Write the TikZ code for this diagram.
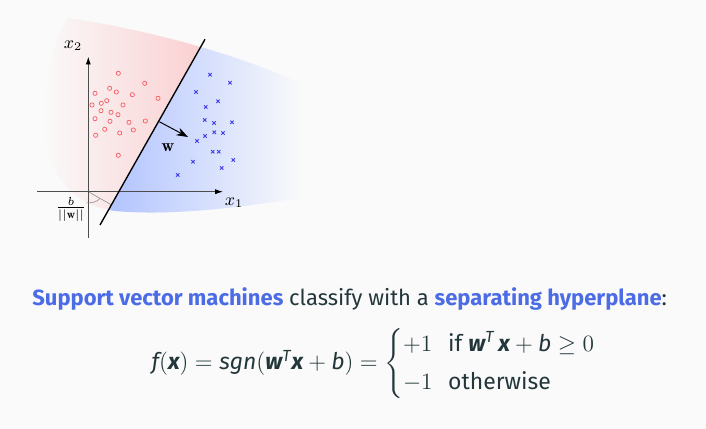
\documentclass[tikz,border=0pt]{standalone}
\usepackage{amsmath}
\usepackage{fontspec}
\setsansfont{Fira Sans}
\usetikzlibrary{arrows.meta}
\definecolor{bgcol}{HTML}{FAFAFA}
\definecolor{txtcol}{HTML}{23373B}
\definecolor{hlblue}{HTML}{4C6CE6}
\definecolor{redshade}{RGB}{250,208,210}
\definecolor{blueshade}{RGB}{178,196,255}
\definecolor{ptred}{RGB}{245,90,95}
\definecolor{ptblue}{RGB}{60,60,235}
\newcommand\svar[1]{\text{\sffamily\itshape #1}}
\newcommand\svec[1]{\text{\sffamily\bfseries\itshape #1}}
\newcommand\hl[1]{\textcolor{hlblue}{\bfseries #1}}
\def\blobpath{(68,18) .. controls (150,30) and (240,55) .. (305,85) -- (305,197) .. controls (240,208) and (170,216) .. (115,211) .. controls (70,205) and (45,170) .. (45,125) .. controls (45,75) and (55,35) .. (68,18) -- cycle}
\tikzset{
  axis/.style={draw=black!70, line width=0.45pt, -{Latex[length=4pt,width=2.6pt,black]}},
  hyper/.style={draw=black, line width=0.7pt},
  warrow/.style={draw=black, line width=0.5pt, -{Stealth[length=6pt,width=4.2pt]}},
  thin gray/.style={draw=black!45, line width=0.3pt},
  redpt/.style={draw=ptred, line width=0.35pt},
  bluept/.style={draw=ptblue, line width=0.45pt},
  lbl/.style={font=\fontsize{9}{11}\selectfont, inner sep=0pt},
  maintext/.style={font=\fontsize{11.3}{13.8}\selectfont\sffamily, text=txtcol, inner sep=0pt},
  eqtext/.style={font=\fontsize{11.8}{14.4}\selectfont\sffamily, text=txtcol, inner sep=0pt}
}
\begin{document}
\begin{tikzpicture}[x=0.5139pt, y=-0.5139pt]
\useasboundingbox (0,0) rectangle (706,429);
\fill[bgcol] (0,0) rectangle (706,429);
% red half
\begin{scope}
  \clip \blobpath;
  \clip (0,0) -- (227.2,0) -- (85.9,250) -- (0,250) -- cycle;
  \shade[left color=bgcol, right color=redshade] (40,0) rectangle (200,250);
  \fill[redshade] (200,0) rectangle (230,250);
\end{scope}
% blue half
\begin{scope}
  \clip \blobpath;
  \clip (227.2,0) -- (400,0) -- (400,250) -- (85.9,250) -- cycle;
  \fill[blueshade] (80,0) rectangle (110,250);
  \shade[left color=blueshade, right color=bgcol] (110,0) rectangle (302,250);
\end{scope}
% coordinates
\coordinate (O) at (88.3,191.7);
\coordinate (xs) at (37,191.7);
\coordinate (xe) at (223,191.7);
\coordinate (ys) at (88.3,238);
\coordinate (ye) at (88.3,56.7);
\coordinate (h1) at (100,225);
\coordinate (h2) at (205,39.3);
\coordinate (foot) at (111.4,204.8);
\coordinate (wa) at (159.3,121.7);
\coordinate (wb) at (188,137);
% perpendicular from origin
\draw[thin gray] (O) -- (foot);
% axes
\draw[axis] (xs) -- (xe);
\draw[axis] (ys) -- (ye);
% points
\foreach \px/\py in {118.3/73.3,144.7/83.3,95/93.3,109.7/88.3,116.3/92,132.3/94.7,158/98.3,92/105,101.3/103.3,106.7/100.7,123/105,101/110.7,111/112.3,118/114.7,95/118.7,110/121.3,129/122.3,145.3/121,104.7/129.3,119.7/133,133.3/130,95.7/135.3,118.3/155.3}
  \draw[redpt] (\px,\py) circle[radius=2.1];
\foreach \px/\py in {210/74.7,230/82.7,196/92,218/101.3,205.7/107,204.7/120,214/123,232/122.3,214.3/132.3,223/133,205/136,197/141,212.7/151.7,218.7/151.7,233.3/160,193/161.7,221.7/168,177.7/175}
  \draw[bluept] (\px-1.7,\py-1.7) -- (\px+1.7,\py+1.7) (\px-1.7,\py+1.7) -- (\px+1.7,\py-1.7);
% hyperplane
\draw[hyper] (h1) -- (h2);
% w vector
\draw[warrow] (wa) -- (wb);
% labels
\node[lbl] (lx2) at (73,46) {$x_2$};
\node[lbl] (lx1) at (234,203) {$x_1$};
\node[lbl] (lw) at (168,148) {$\mathbf{w}$};
\node[lbl] (lb) at (71,209) {$\frac{b}{||\mathbf{w}||}$};
\coordinate (arcend) at (100,198.5);
\draw[thin gray] (86.5,203) .. controls (93,203) and (97.5,201.5) .. (arcend);
% text
\node[maintext, anchor=base west] (t1) at (32,305) {\hl{Support vector machines} classify with a \hl{separating hyperplane}:};
\node[eqtext, anchor=center] (eq) at (374,364) {$\svar{f}(\svec{x}) = \svar{sgn}(\svec{w}^{\svar{T}}\svec{x} + \svar{b}) = \def\arraystretch{1.15}\left\{\begin{array}{@{}l@{\hspace{8pt}}l@{}} +1 & \text{\sffamily if } \svec{w}^{\svar{T}}\,\svec{x} + \svar{b} \geq 0 \\[3pt] -1 & \text{\sffamily otherwise}\end{array}\right.$};
\end{tikzpicture}
\end{document}
